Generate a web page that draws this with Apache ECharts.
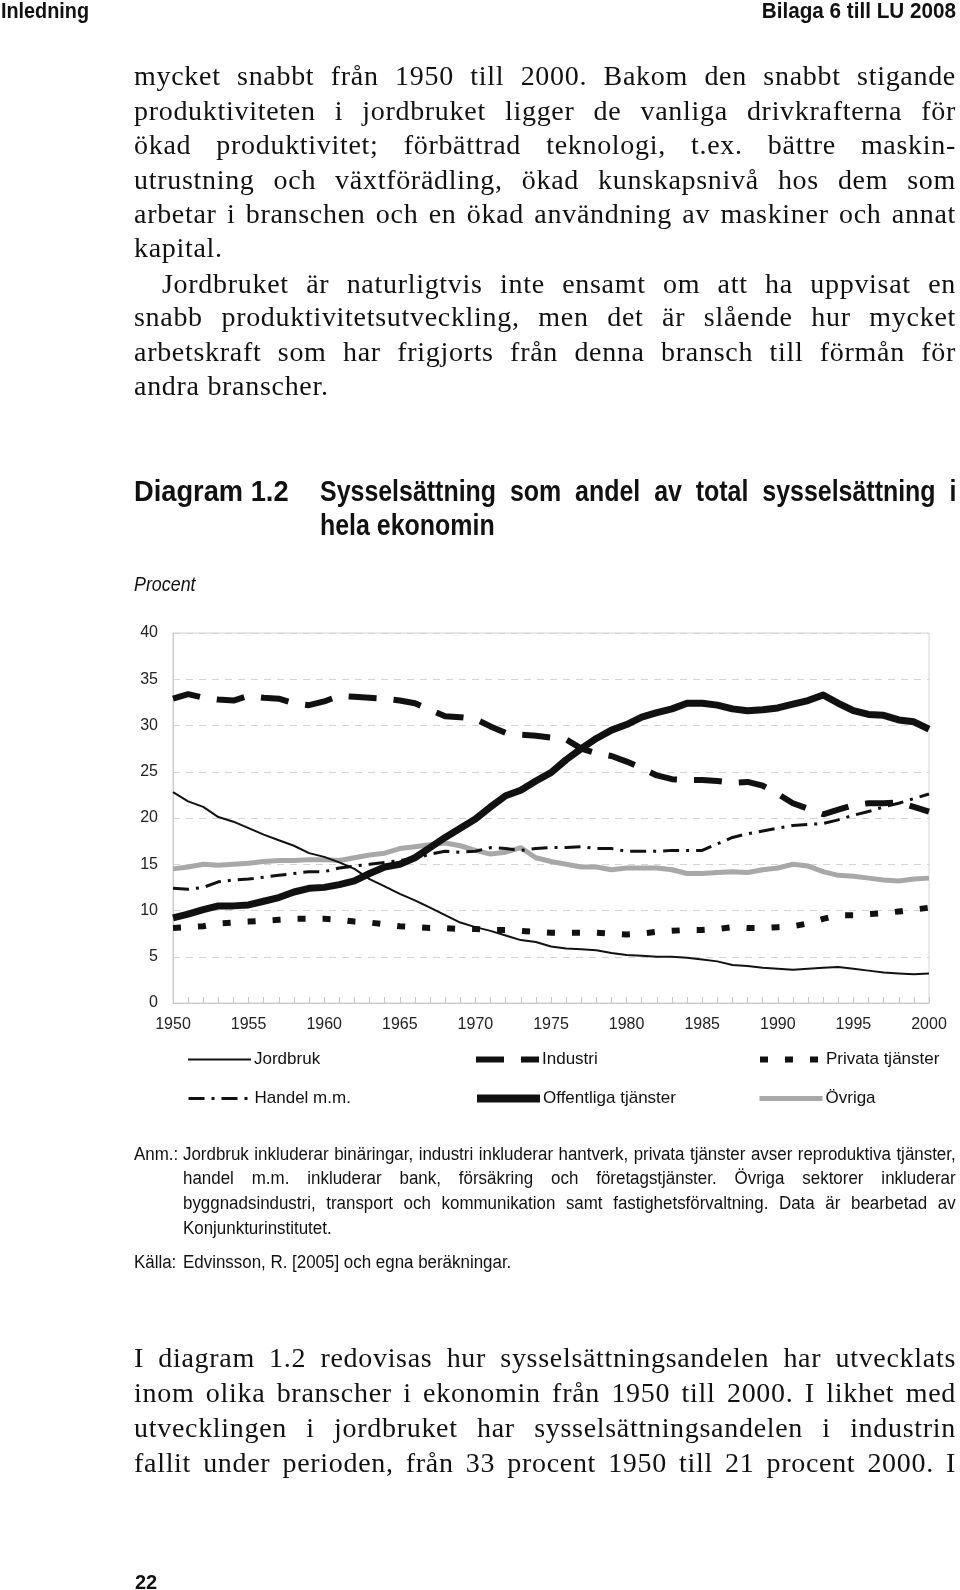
<!DOCTYPE html>
<html>
<head>
<meta charset="utf-8">
<script src="https://cdn.jsdelivr.net/npm/echarts@6/dist/echarts.min.js"></script>
<style>
  html, body { margin: 0; padding: 0; background: #fff; }
  #page { position: relative; width: 960px; height: 1590px; overflow: hidden; }
  #myChart { position: absolute; left: 0; top: 0; width: 960px; height: 1590px; }
  .body { position: absolute; left: 134px; width: 822px; height: 34px; line-height: 34px;
    font-family: "Liberation Serif", serif; font-size: 28px; letter-spacing: 0.7px; color: #111;
    text-align: justify; text-align-last: justify; white-space: normal; }
  .left { text-align: left; text-align-last: left; }
  .cond { position: absolute; font-family: "Liberation Sans", Arial, sans-serif; color: #111;
    transform-origin: 0 50%; white-space: nowrap; }
  .just { white-space: normal; text-align: justify; text-align-last: justify; }
  .note { font-size: 18px; line-height: 24px; transform: scaleX(0.94); }
  .ttl { font-size: 29px; line-height: 34px; font-weight: bold; transform: scaleX(0.86); }
</style>
</head>
<body>
<div id="page">
  <div id="myChart"></div>

  <div class="cond" style="left:1px;top:0px;font-size:22px;line-height:22px;font-weight:bold;transform:scaleX(0.9);">Inledning</div>
  <div class="cond" style="left:956px;top:0px;font-size:22px;line-height:22px;font-weight:bold;transform-origin:100% 50%;transform:translateX(-100%) scaleX(0.94);">Bilaga 6 till LU 2008</div>

  <div class="body" style="top:59px">mycket snabbt från 1950 till 2000. Bakom den snabbt stigande</div>
  <div class="body" style="top:94px">produktiviteten i jordbruket ligger de vanliga drivkrafterna för</div>
  <div class="body" style="top:128px">ökad produktivitet; förbättrad teknologi, t.ex. bättre maskin-</div>
  <div class="body" style="top:163px">utrustning och växtförädling, ökad kunskapsnivå hos dem som</div>
  <div class="body" style="top:197px">arbetar i branschen och en ökad användning av maskiner och annat</div>
  <div class="body left" style="top:231px">kapital.</div>
  <div class="body" style="top:267px;left:162px;width:794px">Jordbruket är naturligtvis inte ensamt om att ha uppvisat en</div>
  <div class="body" style="top:300px">snabb produktivitetsutveckling, men det är slående hur mycket</div>
  <div class="body" style="top:335px">arbetskraft som har frigjorts från denna bransch till förmån för</div>
  <div class="body left" style="top:369px">andra branscher.</div>

  <div class="cond ttl" style="left:134px;top:474px;transform:scaleX(0.94);">Diagram 1.2</div>
  <div class="cond ttl just" style="left:320px;top:474px;width:740px;">Sysselsättning som andel av total sysselsättning i</div>
  <div class="cond ttl" style="left:320px;top:508px;">hela ekonomin</div>
  <div class="cond" style="left:134px;top:572px;font-size:21px;line-height:24px;font-style:italic;transform:scaleX(0.85);">Procent</div>

  <div class="cond note" style="left:134px;top:1142px;">Anm.:</div>
  <div class="cond note just" style="left:183px;top:1142px;width:822px;">Jordbruk inkluderar binäringar, industri inkluderar hantverk, privata tjänster avser reproduktiva tjänster,</div>
  <div class="cond note just" style="left:183px;top:1166px;width:822px;">handel m.m. inkluderar bank, försäkring och företagstjänster. Övriga sektorer inkluderar</div>
  <div class="cond note just" style="left:183px;top:1191px;width:822px;">byggnadsindustri, transport och kommunikation samt fastighetsförvaltning. Data är bearbetad av</div>
  <div class="cond note" style="left:183px;top:1216px;">Konjunkturinstitutet.</div>
  <div class="cond note" style="left:134px;top:1250px;">Källa:</div>
  <div class="cond note" style="left:183px;top:1250px;">Edvinsson, R. [2005] och egna beräkningar.</div>

  <div class="body" style="top:1341px">I diagram 1.2 redovisas hur sysselsättningsandelen har utvecklats</div>
  <div class="body" style="top:1376px">inom olika branscher i ekonomin från 1950 till 2000. I likhet med</div>
  <div class="body" style="top:1411px">utvecklingen i jordbruket har sysselsättningsandelen i industrin</div>
  <div class="body" style="top:1446px">fallit under perioden, från 33 procent 1950 till 21 procent 2000. I</div>

  <div class="cond" style="left:135px;top:1571px;font-size:20px;line-height:22px;font-weight:bold;">22</div>
</div>

<script>
  // Sysselsättningsandel per sektor, procent, 1950-2000
  var years = []
  for (var y = 1950; y <= 2000; y++) years.push(String(y))

  var jordbruk = [22.8, 21.8, 21.2, 20.1, 19.6, 18.9, 18.2, 17.6, 17.0, 16.2,
    15.8, 15.2, 14.5, 13.4, 12.6, 11.8, 11.1, 10.3, 9.5, 8.7,
    8.2, 7.8, 7.3, 6.8, 6.6, 6.1, 5.9, 5.8, 5.7, 5.4,
    5.2, 5.1, 5.0, 5.0, 4.9, 4.7, 4.5, 4.1, 4.0, 3.8,
    3.7, 3.6, 3.7, 3.8, 3.9, 3.7, 3.5, 3.3, 3.2, 3.1,
    3.2]
  var industri = [32.9, 33.4, 33.0, 32.8, 32.7, 33.2, 33.0, 32.9, 32.4, 32.2,
    32.6, 33.2, 33.1, 33.0, 32.9, 32.7, 32.4, 31.7, 31.0, 30.9,
    30.7, 29.9, 29.2, 29.0, 28.9, 28.7, 28.5, 27.5, 27.0, 26.7,
    26.1, 25.4, 24.6, 24.2, 24.1, 24.1, 24.0, 23.8, 23.9, 23.5,
    22.6, 21.6, 21.0, 20.4, 20.9, 21.4, 21.6, 21.6, 21.7, 21.2,
    20.7]
  var privata = [8.1, 8.2, 8.3, 8.6, 8.7, 8.8, 8.9, 9.0, 9.1, 9.1,
    9.1, 9.0, 8.8, 8.7, 8.5, 8.3, 8.2, 8.1, 8.1, 8.0,
    8.0, 7.9, 7.9, 7.8, 7.7, 7.6, 7.6, 7.6, 7.6, 7.5,
    7.4, 7.5, 7.7, 7.8, 7.9, 7.9, 8.0, 8.2, 8.1, 8.1,
    8.2, 8.3, 8.6, 9.1, 9.5, 9.5, 9.6, 9.7, 9.9, 10.1,
    10.3]
  var handel = [12.4, 12.3, 12.5, 13.1, 13.3, 13.4, 13.6, 13.8, 14.0, 14.2,
    14.2, 14.6, 14.8, 15.0, 15.2, 15.4, 15.6, 16.1, 16.4, 16.3,
    16.4, 16.8, 16.7, 16.5, 16.7, 16.8, 16.8, 16.9, 16.7, 16.7,
    16.4, 16.4, 16.4, 16.5, 16.5, 16.5, 17.2, 17.9, 18.3, 18.6,
    18.9, 19.2, 19.3, 19.4, 19.8, 20.3, 20.7, 21.2, 21.6, 22.1,
    22.6]
  var offentliga = [9.2, 9.6, 10.1, 10.5, 10.5, 10.6, 11.0, 11.4, 12.0, 12.4,
    12.5, 12.8, 13.2, 14.0, 14.7, 15.0, 15.7, 16.8, 17.9, 18.9,
    19.9, 21.2, 22.4, 23.0, 24.0, 24.9, 26.3, 27.5, 28.6, 29.5,
    30.1, 30.9, 31.4, 31.8, 32.4, 32.4, 32.2, 31.8, 31.6, 31.7,
    31.9, 32.3, 32.7, 33.3, 32.4, 31.6, 31.2, 31.1, 30.6, 30.4,
    29.6]
  var ovriga = [14.5, 14.7, 15.0, 14.9, 15.0, 15.1, 15.3, 15.4, 15.4, 15.5,
    15.5, 15.4, 15.7, 16.0, 16.2, 16.7, 16.9, 17.1, 17.3, 17.0,
    16.5, 16.1, 16.3, 16.8, 15.7, 15.3, 15.0, 14.7, 14.7, 14.4,
    14.6, 14.6, 14.6, 14.4, 14.0, 14.0, 14.1, 14.2, 14.1, 14.4,
    14.6, 15.0, 14.8, 14.2, 13.8, 13.7, 13.5, 13.3, 13.2, 13.4,
    13.5]

  var font = '"Liberation Sans", Arial, sans-serif'

  var myChart = echarts.init(document.getElementById('myChart'))

  function leg(name, x, y, w) {
    return {
      data: [name],
      left: x,
      top: y - 10,
      padding: 0,
      itemWidth: 63,
      itemHeight: 14,
      selectedMode: false,
      itemStyle: { opacity: 0 },
      lineStyle: { width: w },
      textStyle: { fontFamily: font, fontSize: 17, color: '#111', padding: [0, 0, 0, -2] }
    }
  }

  var option = {
    animation: false,
    backgroundColor: 'transparent',
    grid: {
      left: 173, top: 633, width: 756, height: 370,
      show: true, borderColor: '#d4d4d4', borderWidth: 1
    },
    legend: [
      leg('Jordbruk', 187, 1061, 2),
      leg('Industri', 473, 1061, 6),
      leg('Privata tjänster', 757, 1061, 6),
      leg('Handel m.m.', 187, 1100, 3),
      leg('Offentliga tjänster', 473, 1100, 8),
      leg('Övriga', 757, 1100, 5)
    ],
    xAxis: {
      type: 'category',
      data: years,
      boundaryGap: false,
      axisLine: { lineStyle: { color: '#c8c8c8', width: 1 } },
      axisTick: { show: true, interval: 0, inside: true, length: 6, lineStyle: { color: '#c8c8c8' } },
      axisLabel: { interval: 4, fontFamily: font, fontSize: 16, color: '#222', margin: 14 },
      splitLine: { show: false }
    },
    yAxis: {
      type: 'value',
      min: 0,
      max: 40,
      interval: 5,
      axisLine: { show: true, lineStyle: { color: '#c8c8c8' } },
      axisTick: { show: false },
      axisLabel: { fontFamily: font, fontSize: 16, color: '#222', margin: 15 },
      splitLine: { show: true, lineStyle: { type: [7, 6], color: '#d4d4d4' } }
    },
    series: [
      {
        name: 'Övriga', type: 'line', data: ovriga, symbol: 'none',
        lineStyle: { color: '#a8a8a8', width: 5 }, itemStyle: { color: '#a8a8a8' }
      },
      {
        name: 'Jordbruk', type: 'line', data: jordbruk, symbol: 'none',
        lineStyle: { color: '#111', width: 2 }, itemStyle: { color: '#111' }
      },
      {
        name: 'Handel m.m.', type: 'line', data: handel, symbol: 'none',
        lineStyle: { color: '#111', width: 3, type: [16, 7, 3, 7] }, itemStyle: { color: '#111' }
      },
      {
        name: 'Privata tjänster', type: 'line', data: privata, symbol: 'none',
        lineStyle: { color: '#111', width: 6, type: [8, 17] }, itemStyle: { color: '#111' }
      },
      {
        name: 'Industri', type: 'line', data: industri, symbol: 'none',
        lineStyle: { color: '#111', width: 6, type: [28, 17] }, itemStyle: { color: '#111' }
      },
      {
        name: 'Offentliga tjänster', type: 'line', data: offentliga, symbol: 'none',
        lineStyle: { color: '#111', width: 7, join: 'round' }, itemStyle: { color: '#111' }
      }
    ]
  }
  myChart.setOption(option)
</script>
</body>
</html>
